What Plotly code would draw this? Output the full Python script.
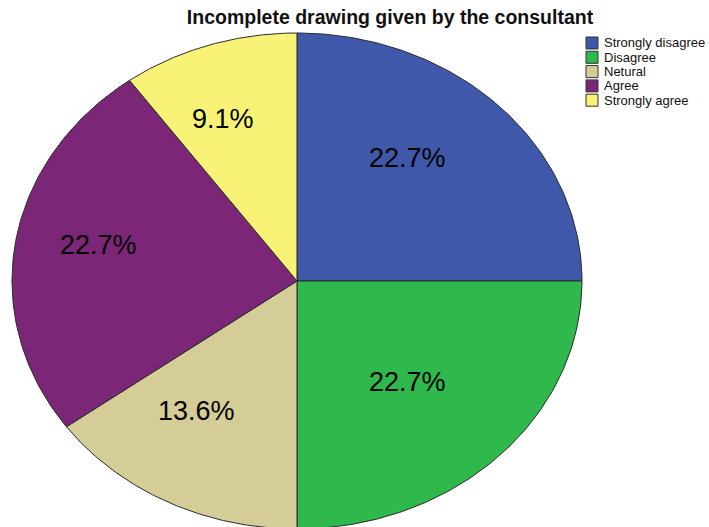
import numpy as np
import plotly.graph_objects as go

# ---- data ----
categories = ["Strongly disagree", "Disagree", "Netural", "Agree", "Strongly agree"]
counts = [5, 5, 3, 5, 2]          # drawn responses (2 responses missing from drawing)
total_responses = 22               # percentages are out of all responses
pct_labels = [f"{c / total_responses * 100:.1f}%" for c in counts]
colors = ["#3f58a9", "#2fb84b", "#d5cd97", "#7b2677", "#f8f377"]

# ---- geometry (pixel layout of ellipse) ----
W, H = 709, 527
cx, cy = 297, 281
rx, ry = 285, 248

fig = go.Figure()

fracs = np.array(counts) / np.sum(counts)
starts = np.concatenate([[0], np.cumsum(fracs)[:-1]]) * 360
ends = np.cumsum(fracs) * 360

for cat, a0, a1, col in zip(categories, starts, ends, colors):
    t = np.radians(np.linspace(a0, a1, 120))
    xs = np.concatenate([[0], np.sin(t), [0]])
    ys = np.concatenate([[0], np.cos(t), [0]])
    fig.add_trace(go.Scatter(x=xs, y=ys, mode="lines", fill="toself",
                             fillcolor=col, line=dict(color="#2b2b2b", width=1),
                             name=cat, showlegend=False, hoverinfo="name"))

# slice labels
label_r = 0.64
for a0, a1, txt in zip(starts, ends, pct_labels):
    m = np.radians((a0 + a1) / 2)
    fig.add_annotation(x=label_r * np.sin(m), y=label_r * np.cos(m), text=txt,
                       xshift=-18, yshift=11,
                       showarrow=False, font=dict(family="Liberation Sans, Arial", size=27, color="#000"))

# legend (manual, SPSS style)
lx, ly0, dy = 586, 43, 14.3
for i, (cat, col) in enumerate(zip(categories, colors)):
    yc = ly0 + i * dy
    fig.add_shape(type="rect", xref="paper", yref="paper",
                  x0=lx / W, x1=(lx + 12) / W, y0=1 - (yc + 6) / H, y1=1 - (yc - 6) / H,
                  fillcolor=col, line=dict(color="#333", width=1))
    fig.add_annotation(xref="paper", yref="paper", x=(lx + 16) / W, y=1 - yc / H,
                       xanchor="left", yanchor="middle", text=cat, showarrow=False,
                       font=dict(family="Liberation Sans, Arial", size=13, color="#111"))

fig.update_layout(
    width=W, height=H,
    margin=dict(l=0, r=0, t=0, b=0),
    paper_bgcolor="white", plot_bgcolor="white",
    showlegend=False,
    title=dict(text="<b>Incomplete drawing given by the consultant</b>",
               x=390 / W, xanchor="center", y=1 - 17 / H, yanchor="middle",
               font=dict(family="Liberation Sans, Arial", size=19.5, color="#111")),
    xaxis=dict(range=[-cx / rx, (W - cx) / rx], visible=False, fixedrange=True),
    yaxis=dict(range=[-(H - cy) / ry, cy / ry], visible=False, fixedrange=True),
)

fig.write_html("out.html")
